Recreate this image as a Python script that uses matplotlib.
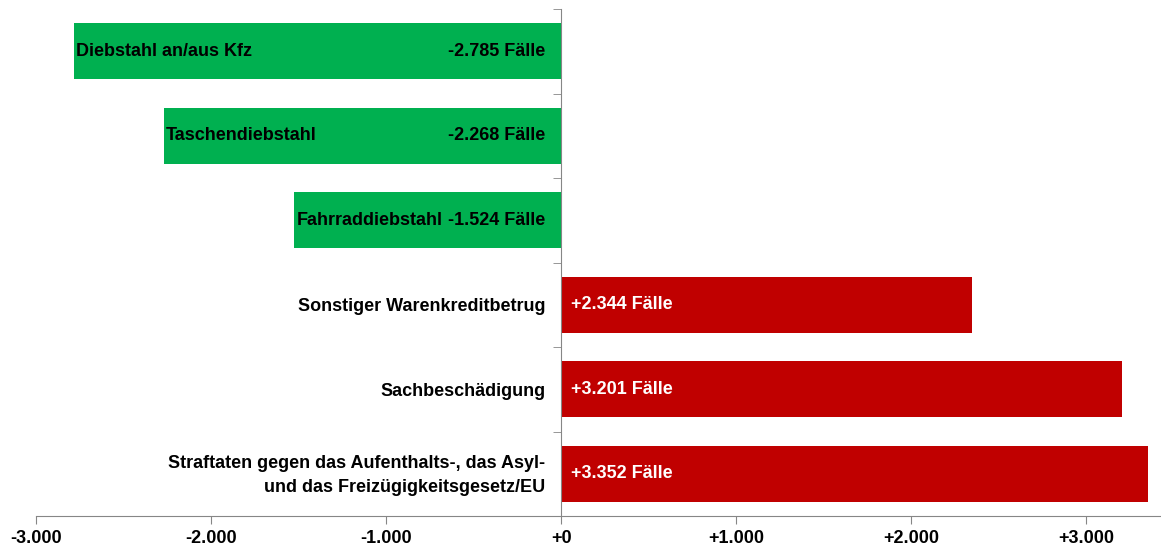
import matplotlib.pyplot as plt
from matplotlib.ticker import FixedLocator

plt.rcParams['font.family'] = ['Liberation Sans', 'DejaVu Sans']

# data, top to bottom
categories = ['Diebstahl an/aus Kfz', 'Taschendiebstahl', 'Fahrraddiebstahl',
              'Sonstiger Warenkreditbetrug', 'Sachbeschädigung',
              'Straftaten gegen das Aufenthalts-, das Asyl-\nund das Freizügigkeitsgesetz/EU']
changes = [-2785, -2268, -1524, 2344, 3201, 3352]
x_ticks = [-3000, -2000, -1000, 0, 1000, 2000, 3000]

GREEN = '#00B050'
RED = '#C00000'
GREY = '#868686'
FS = 13


def de_num(v):
    s = f'{abs(v):,}'.replace(',', '.')
    if v < 0:
        return '-' + s
    return '+' + s


fig = plt.figure(figsize=(11.61, 5.47), dpi=100)
ax = fig.add_axes([36 / 1161, 31 / 547, 1124 / 1161, 507 / 547])

pos = list(range(len(categories)))
colors = [GREEN if v < 0 else RED for v in changes]
ax.barh(pos, changes, height=0.66, color=colors, zorder=2)

ax.set_ylim(len(categories) - 0.5, -0.5)
ax.set_xlim(-3000, 3420)

for y, cat, v in zip(pos, categories, changes):
    val = de_num(v) + ' Fälle'
    if v < 0:
        ax.annotate(cat, (v, y), xytext=(2, 0), textcoords='offset pixels',
                    ha='left', va='center', fontsize=FS, fontweight='bold', color='black', zorder=3)
        ax.annotate(val, (0, y), xytext=(-16, 0), textcoords='offset pixels',
                    ha='right', va='center', fontsize=FS, fontweight='bold', color='black', zorder=3)
    else:
        ax.annotate(cat, (0, y), xytext=(-16, -2), textcoords='offset pixels',
                    ha='right', va='center', fontsize=FS, fontweight='bold', color='black',
                    linespacing=1.5, zorder=3)
        ax.annotate(val, (0, y), xytext=(10, 0), textcoords='offset pixels',
                    ha='left', va='center', fontsize=FS, fontweight='bold', color='white', zorder=3)

# spines: x axis at bottom, category axis at zero
for side in ['top', 'right']:
    ax.spines[side].set_visible(False)
ax.spines['left'].set_position(('data', 0))
ax.spines['left'].set_color(GREY)
ax.spines['bottom'].set_color(GREY)
ax.spines['left'].set_zorder(4)

ax.set_xticks(x_ticks)
ax.set_xticklabels([de_num(t) for t in x_ticks], fontsize=FS, fontweight='bold')
ax.tick_params(axis='x', direction='out', length=6, color=GREY, pad=4)

ax.set_yticks([])
ax.yaxis.set_minor_locator(FixedLocator([i - 0.5 for i in range(len(categories) + 1)]))
ax.tick_params(axis='y', which='minor', direction='out', length=6, color=GREY)

fig.savefig('out.png', dpi=100)
